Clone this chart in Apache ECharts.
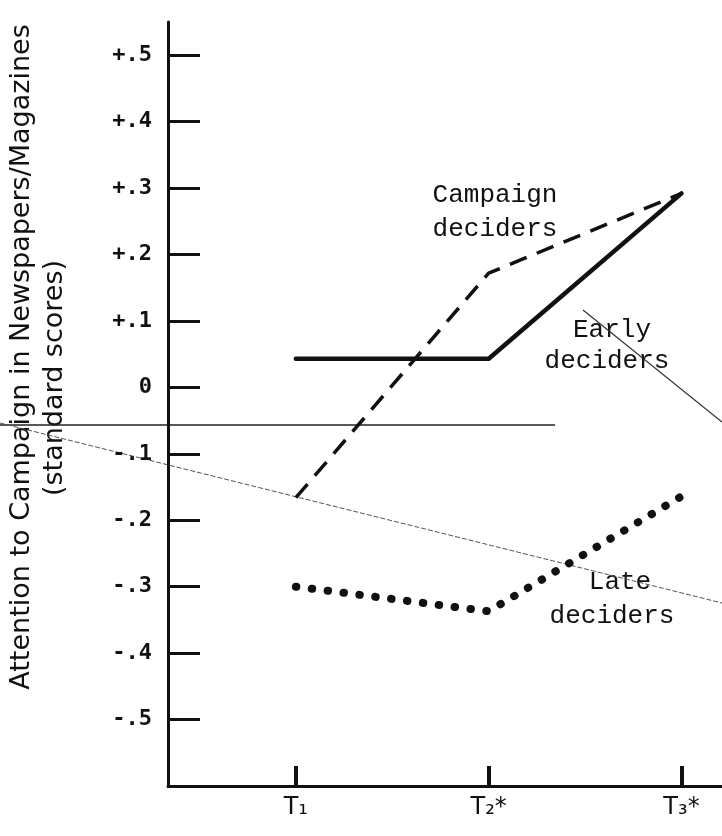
<!DOCTYPE html>
<html>
<head>
<meta charset="utf-8">
<script src="https://cdn.jsdelivr.net/npm/echarts@6/dist/echarts.min.js"></script>
<style>html,body{margin:0;padding:0;background:#fff}#c{width:722px;height:836px}</style>
</head>
<body>
<div id="c"></div>
<script>
const timePoints = [1, 2, 3];
const timeLabels = ['T\u2081', 'T\u2082*', 'T\u2083*'];
const earlyDeciders = [0.043, 0.043, 0.292];
const campaignDeciders = [-0.166, 0.172, 0.292];
const lateDeciders = [-0.30, -0.337, -0.164];
const yTicks = [0.5, 0.4, 0.3, 0.2, 0.1, 0, -0.1, -0.2, -0.3, -0.4, -0.5];

function pairs(vals) { return timePoints.map((t, i) => [t, vals[i]]); }
function yFmt(v) {
  const r = Math.round(v * 10);
  if (r === 0) return '0';
  return (r > 0 ? '+.' : '-.') + Math.abs(r);
}

const chart = echarts.init(document.getElementById('c'), null, {renderer: 'canvas'});
const ink = '#111';
const mono = '26px "Liberation Mono"';
chart.setOption({
  backgroundColor: '#fff',
  animation: false,
  grid: {left: 168, right: 0, top: 22, bottom: 50, containLabel: false},
  xAxis: {
    type: 'value', min: 0.337, max: 3.21,
    splitLine: {show: false},
    axisLine: {show: true, onZero: false, lineStyle: {color: ink, width: 3}},
    axisTick: {show: true, inside: true, length: 20, customValues: timePoints, lineStyle: {color: ink, width: 4}},
    axisLabel: {show: true, customValues: timePoints, margin: 10, color: ink, fontSize: 24,
      fontFamily: 'DejaVu Sans', formatter: v => timeLabels[timePoints.indexOf(Math.round(v))] || ''}
  },
  yAxis: {
    type: 'value', min: -0.6, max: 0.55,
    splitLine: {show: false},
    axisLine: {show: true, onZero: false, lineStyle: {color: ink, width: 3}},
    axisTick: {show: true, inside: true, length: 32, customValues: yTicks, lineStyle: {color: ink, width: 3}},
    axisLabel: {show: true, customValues: yTicks, margin: 16, color: ink, fontSize: 22,
      fontFamily: 'DejaVu Sans Mono', fontWeight: 'bold', formatter: yFmt}
  },
  series: [
    {name: 'Early deciders', type: 'line', data: pairs(earlyDeciders), showSymbol: false,
      lineStyle: {color: ink, width: 4.5, type: 'solid', cap: 'round', join: 'round'}},
    {name: 'Campaign deciders', type: 'line', data: pairs(campaignDeciders), showSymbol: false,
      lineStyle: {color: ink, width: 3.5, type: [18, 11], cap: 'butt'}},
    {name: 'Late deciders', type: 'line', data: pairs(lateDeciders), showSymbol: false,
      lineStyle: {color: ink, width: 8, type: [0.5, 15.5], cap: 'round'}}
  ],
  graphic: [
    {type: 'text', x: 22, y: 357, rotation: Math.PI / 2,
      style: {text: 'Attention to Campaign in Newspapers/Magazines', fill: ink, font: '27px "DejaVu Sans"', align: 'center', verticalAlign: 'middle'}},
    {type: 'text', x: 55, y: 378, rotation: Math.PI / 2,
      style: {text: '(standard scores)', fill: ink, font: '27px "DejaVu Sans"', align: 'center', verticalAlign: 'middle'}},
    {type: 'text', x: 495, y: 195, style: {text: 'Campaign', fill: ink, font: mono, align: 'center', verticalAlign: 'middle'}},
    {type: 'text', x: 495, y: 229, style: {text: 'deciders', fill: ink, font: mono, align: 'center', verticalAlign: 'middle'}},
    {type: 'text', x: 612, y: 330, style: {text: 'Early', fill: ink, font: mono, align: 'center', verticalAlign: 'middle'}},
    {type: 'text', x: 607, y: 361, style: {text: 'deciders', fill: ink, font: mono, align: 'center', verticalAlign: 'middle'}},
    {type: 'text', x: 620, y: 582, style: {text: 'Late', fill: ink, font: mono, align: 'center', verticalAlign: 'middle'}},
    {type: 'text', x: 612, y: 616, style: {text: 'deciders', fill: ink, font: mono, align: 'center', verticalAlign: 'middle'}},
    {type: 'line', shape: {x1: 0, y1: 425, x2: 555, y2: 425}, style: {stroke: '#222', lineWidth: 1.3}, silent: true},
    {type: 'line', shape: {x1: 0, y1: 423, x2: 722, y2: 603}, style: {stroke: '#555', lineWidth: 1, lineDash: [5, 2]}, silent: true},
    {type: 'line', shape: {x1: 583, y1: 310, x2: 722, y2: 422}, style: {stroke: '#333', lineWidth: 1.2}, silent: true}
  ]
});
</script>
</body>
</html>
